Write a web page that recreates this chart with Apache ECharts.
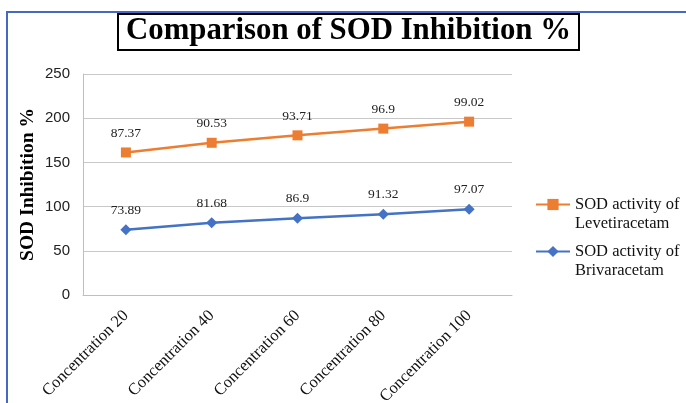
<!DOCTYPE html>
<html>
<head>
<meta charset="utf-8">
<script src="https://cdn.jsdelivr.net/npm/echarts@6/dist/echarts.min.js"></script>
<style>
  html, body { margin: 0; padding: 0; background: #fff; }
  #chart { width: 686px; height: 403px; }
</style>
</head>
<body>
<div id="chart"></div>
<script>
const categories = ['Concentration 20', 'Concentration 40', 'Concentration 60', 'Concentration 80', 'Concentration 100'];
const brivaracetam = [73.89, 81.68, 86.9, 91.32, 97.07];
const levetiracetam = [87.37, 90.53, 93.71, 96.9, 99.02];
const seriesNames = ['SOD activity of Levetiracetam', 'SOD activity of Brivaracetam'];
const legendLines = {
  'SOD activity of Levetiracetam': ['SOD activity of', 'Levetiracetam'],
  'SOD activity of Brivaracetam': ['SOD activity of', 'Brivaracetam']
};

const serif = '"Liberation Serif", "Times New Roman", serif';
const chart = echarts.init(document.getElementById('chart'));

const labelStyle = {
  show: true,
  position: 'top',
  distance: 7,
  fontFamily: serif,
  fontSize: 13.5,
  color: '#222'
};

chart.setOption({
  animation: false,
  title: {
    text: 'Comparison of SOD Inhibition %',
    left: 118,
    top: 14,
    padding: [2, 8, 3, 8],
    borderColor: '#000',
    borderWidth: 2,
    textStyle: {
      fontFamily: serif,
      fontWeight: 'bold',
      fontSize: 30.8,
      color: '#000'
    }
  },
  graphic: [{
    type: 'polyline',
    shape: { points: [[7, 403], [7, 12], [686, 12]] },
    style: { stroke: '#4468c4', lineWidth: 2, fill: null }
  }],
  legend: {
    orient: 'vertical',
    left: 535,
    top: 176,
    padding: 0,
    itemGap: -10,
    itemWidth: 34,
    itemHeight: 14,
    data: seriesNames,
    formatter: (name) => ' \n' + legendLines[name].join('\n'),
    textStyle: {
      fontFamily: serif,
      fontSize: 16.5,
      lineHeight: 19,
      color: '#111'
    }
  },
  grid: { left: 83, right: 174, top: 74, bottom: 108, outerBoundsMode: 'none' },
  xAxis: {
    type: 'category',
    data: categories,
    axisLine: { lineStyle: { color: '#bfbfbf', width: 1 } },
    axisTick: { show: false },
    axisLabel: {
      rotate: 45,
      margin: 18,
      interval: 0,
      fontFamily: serif,
      fontSize: 16.5,
      color: '#111'
    }
  },
  yAxis: {
    type: 'value',
    min: 0,
    max: 250,
    interval: 50,
    name: 'SOD Inhibition %',
    nameLocation: 'middle',
    nameRotate: 90,
    nameGap: 45,
    nameMoveOverlap: false,
    nameTextStyle: {
      fontFamily: serif,
      fontWeight: 'bold',
      fontSize: 19.5,
      color: '#000'
    },
    axisLine: { show: true, lineStyle: { color: '#bfbfbf', width: 1 } },
    axisTick: { show: false },
    splitLine: { lineStyle: { color: '#c8c8c8', width: 1 } },
    axisLabel: {
      margin: 13,
      fontFamily: '"Liberation Sans", Arial, sans-serif',
      fontSize: 15,
      color: '#222'
    }
  },
  series: [
    {
      name: 'SOD activity of Brivaracetam',
      type: 'line',
      stack: 'total',
      data: brivaracetam,
      symbol: 'diamond',
      symbolSize: 11,
      lineStyle: { color: '#4472c4', width: 2.5 },
      itemStyle: { color: '#4472c4' },
      label: labelStyle
    },
    {
      name: 'SOD activity of Levetiracetam',
      type: 'line',
      stack: 'total',
      data: levetiracetam,
      symbol: 'rect',
      symbolSize: 10,
      lineStyle: { color: '#ed7d31', width: 2.5 },
      itemStyle: { color: '#ed7d31' },
      label: labelStyle
    }
  ]
});
</script>
</body>
</html>
